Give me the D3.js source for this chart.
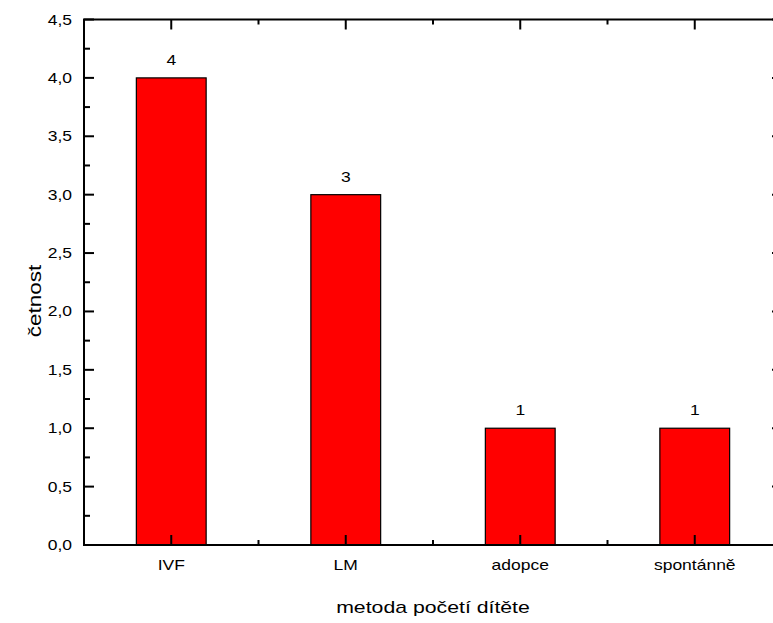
<!DOCTYPE html>
<html><head><meta charset="utf-8">
<script src="https://cdn.jsdelivr.net/npm/d3@7"></script>
<style>body{margin:0;background:#fff}svg{display:block}text{font-family:"Liberation Sans",Arial,sans-serif;fill:#000}</style>
</head><body><svg width="773" height="623"></svg>
<script>
const categories = ["IVF","LM","adopce","spontánně"];
const values = [4,3,1,1];
const yTicks = [0,0.5,1,1.5,2,2.5,3,3.5,4,4.5];
const xTitle = "metoda početí dítěte";
const yTitle = "četnost";

const svg = d3.select("svg");
const L=84, R=782, T=19.5, B=545;
const x = d3.scaleLinear().domain([0.5,4.5]).range([L,R]);
const y = d3.scaleLinear().domain([0,4.5]).range([B,T]);
const fmt = v => d3.format(".1f")(v).replace(".",",");
const bw = x(1.2)-x(0.8);
const SX = 1.25;

function label(px, py, txt, size, anchor, rot){
  svg.append("text")
    .attr("transform", `translate(${px},${py})` + (rot?` rotate(${rot})`:"") + ` scale(${SX},1)`)
    .attr("text-anchor", anchor).attr("font-size", size).text(txt);
}

// bars
svg.selectAll("rect.bar").data(values).join("rect")
  .attr("x",(d,i)=>x(i+1)-bw/2).attr("y",d=>y(d))
  .attr("width",bw).attr("height",d=>y(0)-y(d))
  .attr("fill","#ff0000").attr("stroke","#000").attr("stroke-width",1.2);
values.forEach((d,i)=>label(x(i+1), y(d)-13, d, 14, "middle"));

const g = svg.append("g").attr("stroke","#000").attr("stroke-width",2).attr("fill","none");
g.append("rect").attr("x",L).attr("y",T).attr("width",R-L).attr("height",B-T);
const yMinor = d3.range(0.25,4.5,0.5);
yTicks.forEach(v=>{
  g.append("line").attr("x1",L).attr("x2",L+10).attr("y1",y(v)).attr("y2",y(v));
  g.append("line").attr("x1",R).attr("x2",R-10).attr("y1",y(v)).attr("y2",y(v));
});
yMinor.forEach(v=>{
  g.append("line").attr("x1",L).attr("x2",L+6).attr("y1",y(v)).attr("y2",y(v));
  g.append("line").attr("x1",R).attr("x2",R-6).attr("y1",y(v)).attr("y2",y(v));
});
categories.forEach((c,i)=>{
  g.append("line").attr("x1",x(i+1)).attr("x2",x(i+1)).attr("y1",B).attr("y2",B-10);
  g.append("line").attr("x1",x(i+1)).attr("x2",x(i+1)).attr("y1",T).attr("y2",T+10);
});
d3.range(1.5,4.5,1).forEach(v=>{
  g.append("line").attr("x1",x(v)).attr("x2",x(v)).attr("y1",B).attr("y2",B-5);
  g.append("line").attr("x1",x(v)).attr("x2",x(v)).attr("y1",T).attr("y2",T+5);
});
yTicks.forEach(v=>label(L-12, y(v)+5, fmt(v), 14, "end"));
categories.forEach((c,i)=>label(x(i+1), B+25, c, 14, "middle"));
label((L+R)/2, 613, xTitle, 17, "middle");
label(41, 301, yTitle, 18, "middle", -90);
</script></body></html>
